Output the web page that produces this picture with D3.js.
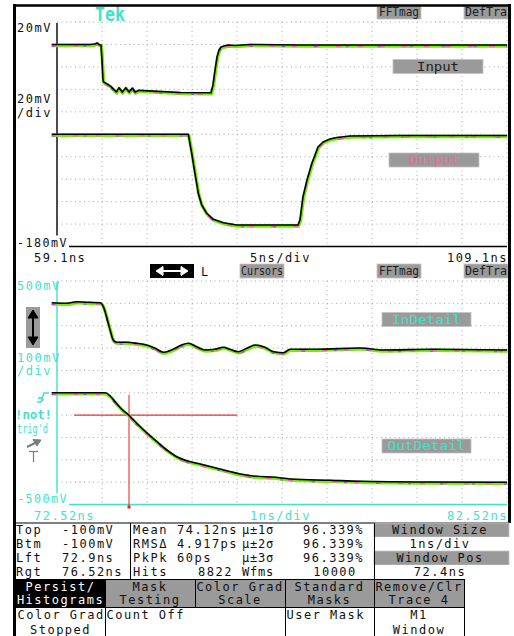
<!DOCTYPE html>
<html>
<head>
<meta charset="utf-8">
<script src="https://cdn.jsdelivr.net/npm/d3@7"></script>
<style>
  html, body { margin: 0; padding: 0; background: #fff; }
  svg { display: block; }
  text { font-family: "DejaVu Sans Mono", "Liberation Mono", monospace; }
</style>
</head>
<body>
<svg id="scope" width="514" height="636"></svg>
<script>
// ---- Main window: Input / Output (5 ns/div, 20 mV/div) ----
const mainTimeRange = [59.1, 109.1];          // ns
const mainVoltRange = [-180, 20];             // mV
const mainTimeLabels = ["59.1ns", "5ns/div", "109.1ns"];
const mainVoltLabels = ["20mV", "20mV", "/div", "-180mV"];

const inputT  = [58.5, 62.8, 63.3, 63.54, 63.77, 63.99, 64.1, 64.2, 64.25, 64.7, 65.07, 65.43, 65.69, 65.99, 66.36, 66.74, 67.1, 67.47, 67.77, 68.21, 72.8, 76.21, 76.43, 76.66, 76.88, 77.1, 77.32, 77.66, 78.1, 78.9, 80.5, 86.1, 109.1];
const inputMV = [0, 0, 0.4, 1.3, 0, -0.5, -14, -30, -33.2, -35.3, -37.4, -40.3, -42.4, -38.5, -42.4, -38.5, -42.4, -38.8, -42.4, -40.9, -42.8, -43, -36.1, -22.8, -11.2, -4.9, -2.3, -1.4, -0.5, -0.9, 0, -0.5, -0.5];

const outputT  = [58.5, 73.69, 74.07, 74.43, 74.8, 75.18, 75.73, 76.47, 77.58, 79.07, 85.88, 86.1, 86.43, 86.88, 87.43, 88.1, 88.66, 89.43, 90.21, 91.66, 97.21, 109.1];
const outputMV = [-80, -80, -97, -114.8, -132.6, -143, -150.4, -155.8, -158.8, -160.9, -160.9, -156.4, -135.9, -120.8, -105.6, -91.4, -86.9, -84.2, -82.9, -81.6, -81.1, -81.1];

// ---- Zoom window: InDetail / OutDetail (1 ns/div, 100 mV/div) ----
const zoomTimeRange = [72.52, 82.52];         // ns
const zoomVoltRange = [-500, 500];            // mV
const zoomTimeLabels = ["72.52ns", "1ns/div", "82.52ns"];
const zoomVoltLabels = ["500mV", "100mV", "/div", "-500mV"];

const inDetailT  = [72.4, 72.74, 72.96, 73.18, 73.48, 73.55, 73.62, 73.7, 73.77, 73.85, 74.07, 74.29, 74.51, 74.7, 74.88, 75.1, 75.29, 75.44, 75.62, 75.81, 76.03, 76.22, 76.36, 76.55, 76.74, 76.92, 77.14, 77.33, 77.55, 77.7, 78.29, 79.25, 79.77, 80.88, 82.52];
const inDetailMV = [402.9, 400.2, 407.4, 404.7, 402.9, 385, 340.3, 280.8, 236, 225.7, 225.7, 221.3, 213.7, 198.9, 181, 194.4, 213.7, 221.3, 206.1, 191.3, 194.4, 203.4, 194.4, 183.7, 198.9, 213.7, 203.4, 183.7, 179.2, 194.4, 194.4, 200.2, 191.3, 194.4, 191.3];

const outDetailT  = [72.4, 73.59, 73.7, 73.81, 73.96, 74.11, 74.29, 74.51, 74.74, 74.96, 75.18, 75.4, 75.7, 75.99, 76.29, 76.59, 76.88, 77.36, 77.7, 78.59, 79.25, 80.59, 82.52];
const outDetailMV = [0, 0, -14.5, -40, -74, -99.5, -136.7, -178.7, -219, -256.1, -286.1, -304, -318.7, -333.5, -348.7, -363.5, -372.4, -378.2, -385.9, -391.7, -396.2, -399.3, -400.6];

// Cursor settings and histogram results
const cursorLevelMV = -100;
const cursorLeftNs = 72.9;
const cursorRightNs = 76.52;
const histMeanNs = 74.12;

const cursorNames  = ["Top", "Btm", "Lft", "Rgt"];
const cursorValues = ["-100mV", "-100mV", "72.9ns", "76.52ns"];
const statNames    = ["Mean", "RMS\u0394", "PkPk", "Hits"];
const statValues   = ["74.12ns", "4.917ps", "60ps", "8822"];
const sigmaNames   = ["\u03bc\u00b11\u03c3", "\u03bc\u00b12\u03c3", "\u03bc\u00b13\u03c3", "Wfms"];
const sigmaValues  = ["96.339%", "96.339%", "96.339%", "10000"];
const windowItems  = ["Window Size", "1ns/div", "Window Pos", "72.4ns"];

const menuTop    = [["Persist/", "Histograms"], ["Mask", "Testing"], ["Color Grad", "Scale"], ["Standard", "Masks"], ["Remove/Clr", "Trace 4"]];
const menuBottom = [["Color Grad", "Stopped"], ["Count Off"], [], ["User Mask"], ["M1", "Window"]];

// ---------------------------------------------------------------
const svg = d3.select("#scope");
const CYAN = "#3fe3c6", GRAY = "#9a9a9a", DOT = "#a8a8a8", DIVS = 10;

function txt(x, y, s, o = {}) {
  const t = svg.append("text").attr("x", x).attr("y", y).text(s)
    .attr("font-size", o.size || 12)
    .attr("fill", o.fill || "#111")
    .attr("letter-spacing", o.ls == null ? 1.5 : o.ls)
    .attr("text-anchor", o.anchor || "start");
  if (o.weight) t.attr("font-weight", o.weight);
  if (o.len) t.attr("textLength", o.len).attr("lengthAdjust", "spacingAndGlyphs");
  if (o.family) t.attr("font-family", o.family);
  return t;
}

function grid(x, y, axisColor) {
  const [x0, x1] = x.range(), [y0, y1] = y.range();
  const g = svg.append("g");
  const xs = d3.range(1, DIVS + 1).map(i => x0 + (x1 - x0) * i / DIVS);
  const ys = d3.range(1, DIVS + 1).map(i => y0 + (y1 - y0) * i / DIVS);
  g.selectAll(".v").data(xs).join("line")
    .attr("x1", d => d).attr("x2", d => d).attr("y1", y1).attr("y2", y0)
    .attr("stroke", DOT).attr("stroke-width", 1).attr("stroke-dasharray", "1,3.5");
  g.selectAll(".h").data(ys).join("line")
    .attr("x1", x0).attr("x2", x1).attr("y1", d => d).attr("y2", d => d)
    .attr("stroke", DOT).attr("stroke-width", 1).attr("stroke-dasharray", "1,3.5");
  // solid left axis and baseline
  g.append("line").attr("x1", x0).attr("x2", x0).attr("y1", y1 + 1).attr("y2", y0 - 11)
    .attr("stroke", axisColor).attr("stroke-width", 1.4);
  g.append("line").attr("x1", x0 + 12).attr("x2", x1).attr("y1", y0).attr("y2", y0)
    .attr("stroke", axisColor).attr("stroke-width", 1.4);
}

function trace(x, y, T, V, curve) {
  const pts = T.map((t, i) => [t, V[i]]);
  const line = d3.line().x(d => x(d[0])).y(d => y(d[1])).curve(curve || d3.curveLinear);
  const g = svg.append("g").attr("fill", "none").attr("stroke-linejoin", "round");
  g.append("path").attr("d", line(pts)).attr("transform", "translate(0.5,1)")
    .attr("stroke", "#74ec0c").attr("stroke-width", 3.4);
  g.append("path").attr("d", line(pts)).attr("transform", "translate(0,1.6)")
    .attr("stroke", "#f064a8").attr("stroke-width", 1.3).attr("stroke-dasharray", "5,17");
  g.append("path").attr("d", line(pts)).attr("transform", "translate(0,1.8)")
    .attr("stroke", "#9a4cf0").attr("stroke-width", 1.1).attr("stroke-dasharray", "3,29");
  g.append("path").attr("d", line(pts))
    .attr("stroke", "#000").attr("stroke-width", 1.6);
}

function box(x, y, w, h, fill, label, color, len) {
  svg.append("rect").attr("x", x).attr("y", y).attr("width", w).attr("height", h)
    .attr("fill", fill).attr("stroke", "#c4c4c4").attr("stroke-width", 0.8);
  if (label) txt(x + w / 2, y + h - 3, label, { fill: color, anchor: "middle", ls: 0, len: len, size: 12 });
}

// ---- frame ----
svg.append("rect").attr("x", 0).attr("y", 0).attr("width", 514).attr("height", 636).attr("fill", "#fff");

// ---- main window ----
const xMain = d3.scaleLinear().domain(mainTimeRange).range([57, 507]);
const yMain = d3.scaleLinear().domain(mainVoltRange).range([246.5, 22]);
grid(xMain, yMain, "#000");
trace(xMain, yMain, outputT, outputMV);
trace(xMain, yMain, inputT, inputMV);

txt(17, 31.5, mainVoltLabels[0]);
txt(17, 103, mainVoltLabels[1]);
txt(17, 116.5, mainVoltLabels[2]);
txt(17, 247, mainVoltLabels[3], { len: 51 });
txt(34, 261.5, mainTimeLabels[0]);
txt(250, 261.5, mainTimeLabels[1]);
txt(508, 261.5, mainTimeLabels[2], { anchor: "end" });

box(393, 59.5, 90, 14, GRAY, "Input", "#1e1e1e", 42);
box(389, 153, 90, 14, GRAY, "Output", "#f2699a", 51);

// header strip
txt(95, 20.5, "Tek", { fill: CYAN, size: 20, weight: "bold", ls: 0, len: 30, family: "Liberation Sans, Arial, sans-serif" });
box(377, 6, 44, 13, GRAY, "FFTmag", "#1e1e1e", 40);
box(464, 6, 44, 13, GRAY, "DefTra", "#1e1e1e", 42);

// middle strip
svg.append("rect").attr("x", 150).attr("y", 264).attr("width", 44).attr("height", 14).attr("fill", "#000");
const arr = svg.append("g").attr("stroke", "#fff").attr("fill", "#fff");
arr.append("line").attr("x1", 160).attr("x2", 184).attr("y1", 271).attr("y2", 271).attr("stroke-width", 2);
arr.append("path").attr("d", "M156,271 L163,266.5 L163,275.5 Z");
arr.append("path").attr("d", "M188,271 L181,266.5 L181,275.5 Z");
txt(201, 276, "L");
box(240, 264, 44, 14, GRAY, "Cursors", "#1e1e1e", 42);
box(377, 264, 44, 14, GRAY, "FFTmag", "#1e1e1e", 40);
box(464, 264, 44, 14, GRAY, "DefTra", "#1e1e1e", 42);

// ---- zoom window ----
const xZoom = d3.scaleLinear().domain(zoomTimeRange).range([57, 507]);
const yZoom = d3.scaleLinear().domain(zoomVoltRange).range([504.5, 281]);
grid(xZoom, yZoom, CYAN);

// cursors
const cur = svg.append("g").attr("stroke", "#ee3030").attr("stroke-width", 1.1);
cur.append("line").attr("x1", xZoom(cursorLeftNs)).attr("x2", xZoom(cursorRightNs))
  .attr("y1", yZoom(cursorLevelMV)).attr("y2", yZoom(cursorLevelMV));
cur.append("line").attr("x1", xZoom(histMeanNs)).attr("x2", xZoom(histMeanNs))
  .attr("y1", yZoom(0) + 2).attr("y2", yZoom(-500) + 2);
svg.append("rect").attr("x", xZoom(histMeanNs) - 1.5).attr("y", yZoom(-500) + 1)
  .attr("width", 3).attr("height", 3).attr("fill", "#ee2020");

trace(xZoom, yZoom, outDetailT, outDetailMV, d3.curveMonotoneX);
trace(xZoom, yZoom, inDetailT, inDetailMV, d3.curveMonotoneX);

txt(17, 290, zoomVoltLabels[0], { fill: CYAN });
txt(17, 361.5, zoomVoltLabels[1], { fill: CYAN });
txt(17, 375, zoomVoltLabels[2], { fill: CYAN });
txt(17, 503, zoomVoltLabels[3], { fill: CYAN, len: 51 });
txt(34, 519.5, zoomTimeLabels[0], { fill: CYAN });
txt(250, 519.5, zoomTimeLabels[1], { fill: CYAN });
txt(508, 519.5, zoomTimeLabels[2], { fill: CYAN, anchor: "end" });

box(382, 312.5, 89, 14, GRAY, "InDetail", CYAN, 69);
box(382, 439, 89, 14, GRAY, "OutDetail", CYAN, 78);

// vertical position control
svg.append("rect").attr("x", 26).attr("y", 307).attr("width", 14).attr("height", 41).attr("fill", GRAY);
const va = svg.append("g").attr("fill", "#000").attr("stroke", "#000");
va.append("line").attr("x1", 33).attr("x2", 33).attr("y1", 315).attr("y2", 340).attr("stroke-width", 2);
va.append("path").attr("d", "M33,310 L28,318 L38,318 Z");
va.append("path").attr("d", "M33,345 L28,337 L38,337 Z");

// trigger status
const tg = svg.append("g").attr("stroke", CYAN).attr("fill", "none").attr("stroke-width", 1.4);
tg.append("path").attr("d", "M37,402 L41,402 L44,393 L49,393");
tg.append("path").attr("d", "M38,399 L40,397 M40,399 L42,397 M41.5,401 L43.5,399");
txt(15, 419, "!not!", { fill: CYAN, weight: "bold", len: 37, ls: 0, size: 13 });
txt(17, 433, "trig'd", { fill: CYAN, len: 31, ls: 0, size: 13 });
const ta = svg.append("g").attr("stroke", "#7a7a7a").attr("fill", "#7a7a7a");
ta.append("line").attr("x1", 27).attr("y1", 447).attr("x2", 37).attr("y2", 442).attr("stroke-width", 2);
ta.append("path").attr("d", "M41,440 L33,439.5 L37,446 Z");
ta.append("line").attr("x1", 29).attr("x2", 38).attr("y1", 451.5).attr("y2", 451.5).attr("stroke-width", 1.2);
ta.append("line").attr("x1", 33.5).attr("x2", 33.5).attr("y1", 451.5).attr("y2", 462).attr("stroke-width", 1.2);

// ---- screen border ----
svg.append("line").attr("x1", 13).attr("x2", 511).attr("y1", 5.5).attr("y2", 5.5).attr("stroke", "#000").attr("stroke-width", 2.5);
svg.append("line").attr("x1", 14.5).attr("x2", 14.5).attr("y1", 4).attr("y2", 636).attr("stroke", "#000").attr("stroke-width", 3);
svg.append("line").attr("x1", 509.5).attr("x2", 509.5).attr("y1", 4).attr("y2", 523).attr("stroke", "#000").attr("stroke-width", 3);

// ---- measurement table ----
const rowTop = [523, 537, 551, 565];
const ROWH = 14;
svg.append("line").attr("x1", 16).attr("x2", 509).attr("y1", 523).attr("y2", 523).attr("stroke", "#000");
svg.append("line").attr("x1", 130.5).attr("x2", 130.5).attr("y1", 523).attr("y2", 579).attr("stroke", "#000");

rowTop.forEach((ty, i) => {
  const base = ty + 10.5;
  txt(16, base, cursorNames[i]);
  txt(62, base, cursorValues[i]);
  txt(133, base, statNames[i]);
  if (i === 3) txt(233, base, statValues[i], { anchor: "end" });
  else txt(177, base, statValues[i]);
  txt(242, base, sigmaNames[i], { ls: 0.8 });
  if (i === 3) txt(335, base, sigmaValues[i], { anchor: "middle" });
  else txt(303, base, sigmaValues[i]);
  const grayRow = i % 2 === 0;
  svg.append("rect").attr("x", 374).attr("y", ty).attr("width", 135).attr("height", ROWH)
    .attr("fill", grayRow ? GRAY : "#fff").attr("stroke", grayRow ? "#c4c4c4" : "none").attr("stroke-width", 0.8);
  txt(440, base, windowItems[i], { anchor: "middle" });
});
svg.append("line").attr("x1", 374.5).attr("x2", 374.5).attr("y1", 523).attr("y2", 636).attr("stroke", "#000");

// ---- menu buttons ----
const colX = [16, 105, 195, 285, 374, 464];
menuTop.forEach((lines, i) => {
  const x0 = colX[i], w = colX[i + 1] - x0;
  svg.append("rect").attr("x", x0).attr("y", 579).attr("width", w).attr("height", 28)
    .attr("fill", i === 0 ? "#000" : GRAY);
  lines.forEach((s, j) => {
    txt(x0 + w / 2, 590.5 + j * 13, s, { anchor: "middle", fill: i === 0 ? "#fff" : "#111" });
  });
});
svg.append("line").attr("x1", 16).attr("x2", 465).attr("y1", 579.5).attr("y2", 579.5).attr("stroke", "#000");
svg.append("line").attr("x1", 16).attr("x2", 465).attr("y1", 607.5).attr("y2", 607.5).attr("stroke", "#000");
[105, 195, 285, 374, 464].forEach(x => {
  svg.append("line").attr("x1", x + 0.5).attr("x2", x + 0.5).attr("y1", 579).attr("y2", x === 195 ? 607 : 636)
    .attr("stroke", "#000");
});
menuBottom.forEach((lines, i) => {
  const x0 = colX[i], w = colX[i + 1] - x0;
  lines.forEach((s, j) => {
    const centered = i === 4 || (i === 0 && j === 1);
    txt(centered ? x0 + w / 2 : x0 + 1.5, 618.5 + j * 15.5, s, { anchor: centered ? "middle" : "start" });
  });
});
</script>
</body>
</html>
